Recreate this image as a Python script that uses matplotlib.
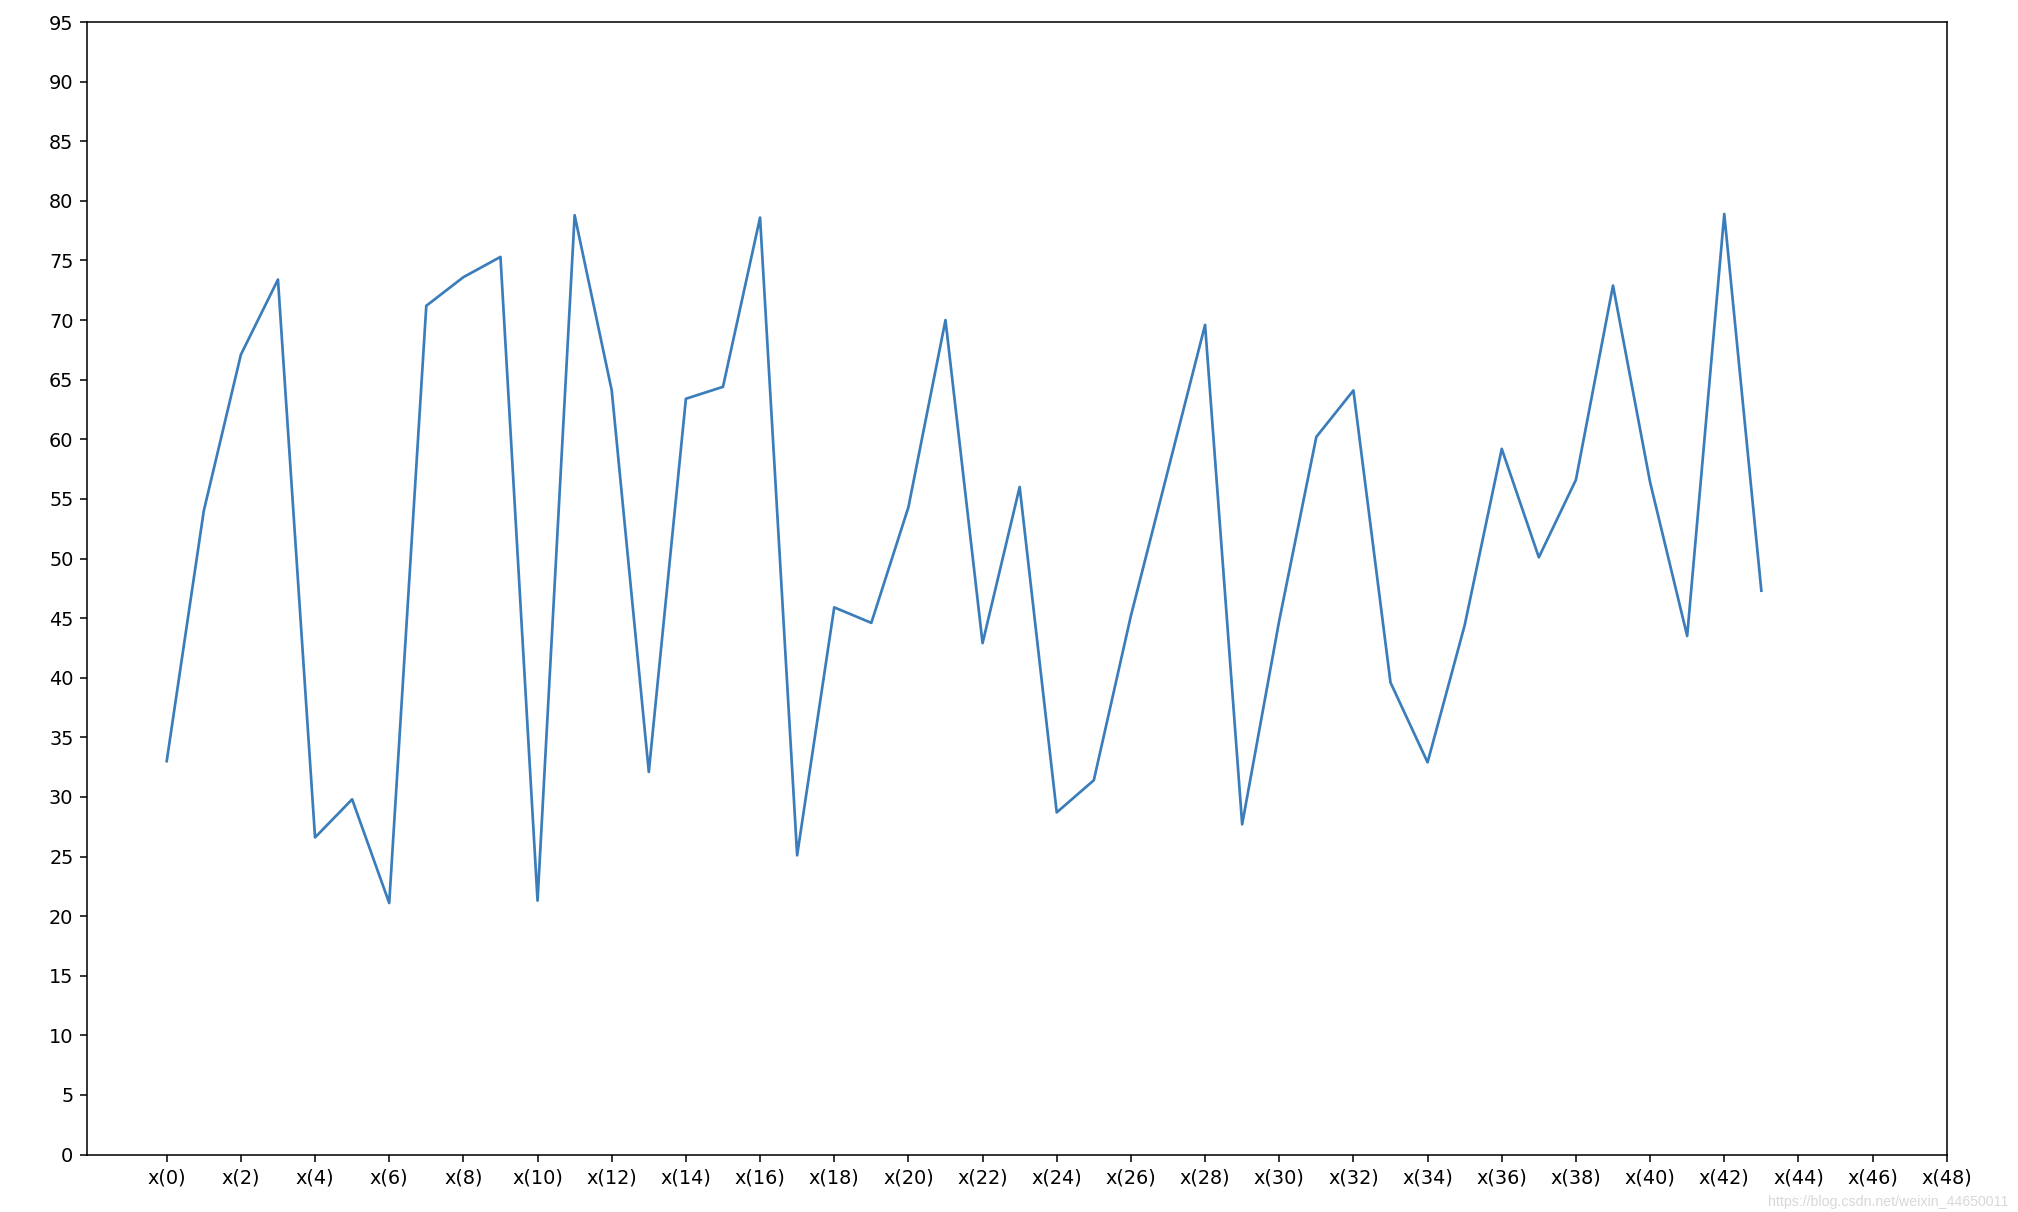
import matplotlib
matplotlib.use("Agg")
import matplotlib.pyplot as plt

# Valores
x_vals = list(range(44))
y_vals = [
    33.0, 54.0, 67.1, 73.4, 26.6, 29.8, 21.1, 71.2, 73.6, 75.3,
    21.3, 78.8, 64.1, 32.1, 63.4, 64.4, 78.6, 25.1, 45.9, 44.6,
    54.3, 70.0, 42.9, 56.0, 28.7, 31.4, 45.2, 57.4, 69.6, 27.7,
    44.8, 60.2, 64.1, 39.6, 32.9, 44.4, 59.2, 50.1, 56.6, 72.9,
    56.4, 43.5, 78.9, 47.3,
]
x_ticks = list(range(0, 50, 2))
x_tick_labels = [f"x({t})" for t in x_ticks]
y_ticks = list(range(0, 100, 5))

# El original es una captura a ~139 dpi
DPI = 139
fig = plt.figure(figsize=(2018 / DPI, 1212 / DPI), dpi=DPI)
ax = fig.add_axes([0.0431, 0.0474, 0.9216, 0.9344])

ax.plot(x_vals, y_vals, color="#3a7dba", linewidth=1.4)

# xticks/yticks fuera del rango amplían los límites, como en el original
ax.set_xticks(x_ticks)
ax.set_xticklabels(x_tick_labels)
ax.set_yticks(y_ticks)

# Marca de agua del original
fig.text(0.9955, 0.0085, "https://blog.csdn.net/weixin_44650011",
         ha="right", va="center", fontsize=7.3, color="#d8d8d8",
         family="Liberation Sans")

fig.savefig("out.png", dpi=DPI)
plt.close(fig)
